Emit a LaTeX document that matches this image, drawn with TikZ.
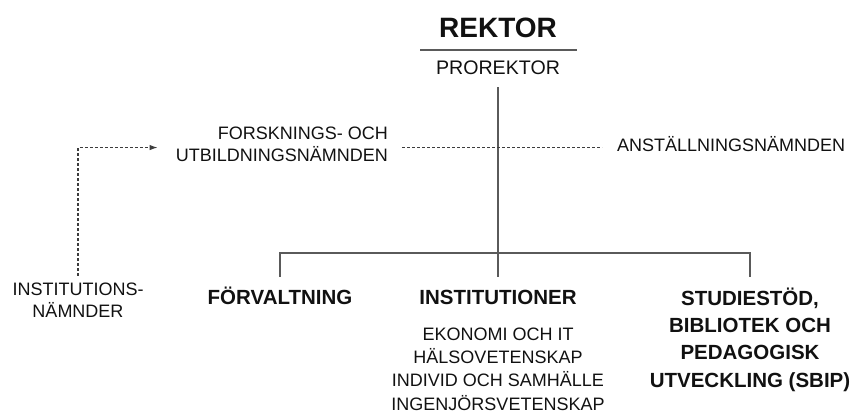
\documentclass[tikz,border=0pt]{standalone}
\usepackage{fontspec}
\setmainfont{Liberation Sans}
\usetikzlibrary{arrows.meta}
\definecolor{linegray}{HTML}{5A5A5A}
\definecolor{dashgray}{HTML}{3C3C3C}
\definecolor{textblack}{HTML}{111111}
\begin{document}
\begin{tikzpicture}[x=1pt, y=-1pt, >={Latex[length=8pt,width=5.5pt]},
    unit/.style ={font=\fontsize{20.5}{27.3}\selectfont\bfseries, align=center, inner sep=0pt, text height=15pt, anchor=base, text=textblack},
    board/.style ={font=\fontsize{18}{22.5}\selectfont, inner sep=0pt, text=textblack},
    orgline/.style ={draw=linegray, line width=1.3pt},
    dashline/.style ={draw=dashgray, line width=1.1pt, dash pattern=on 3pt off 2pt}]
   \useasboundingbox (0,0) rectangle (859,419);
   \node[font=\fontsize{28}{30}\selectfont\bfseries, inner sep=0pt, anchor=base, text=textblack] (rektor) at (498,38) {REKTOR};
   \node[board, font=\fontsize{19.6}{22}\selectfont, anchor=base] (prorektor) at (498,75) {PROREKTOR};
   % multi-line nodes sit on their last baseline
   \node[board, anchor=base east, align=right] (fun) at (388,162) {FORSKNINGS- OCH\\UTBILDNINGSNÄMNDEN};
   \node[board, anchor=base west] (ans) at (617,152) {ANSTÄLLNINGSNÄMNDEN};
   \node[board, anchor=base, align=center] (instn) at (78,318) {INSTITUTIONS-\\NÄMNDER};
   \node[unit] (forv) at (280,305) {FÖRVALTNING};
   \node[unit] (inst) at (498,305) {INSTITUTIONER};
   \node[unit, text height=96.9pt] (sbip) at (750,387) {STUDIESTÖD,\\BIBLIOTEK OCH\\PEDAGOGISK\\UTVECKLING (SBIP)};
   \node[board, font=\fontsize{18}{23.3}\selectfont, align=center, anchor=base] (instlist) at (498,410) {EKONOMI OCH IT\\HÄLSOVETENSKAP\\INDIVID OCH SAMHÄLLE\\INGENJÖRSVETENSKAP};
   \coordinate (bar) at (498,253);
   \draw[orgline] (420,50) -- (577,50);
   \draw[orgline, shorten <=12pt, shorten >=13pt] (prorektor.south) -- (inst.north);
   \draw[orgline, shorten <=13pt, shorten >=13pt] (forv.north) |- (bar) -| (sbip.north);
   \draw[dashline, ->, shorten <=7pt, shorten >=18pt] (instn.north) |- ([yshift=-3pt]fun.west);
   \draw[dashline, shorten <=14pt, shorten >=15pt] ([yshift=-3pt]fun.east) -- ([yshift=-3pt]fun.east -| ans.west);
\end{tikzpicture}
\end{document}
